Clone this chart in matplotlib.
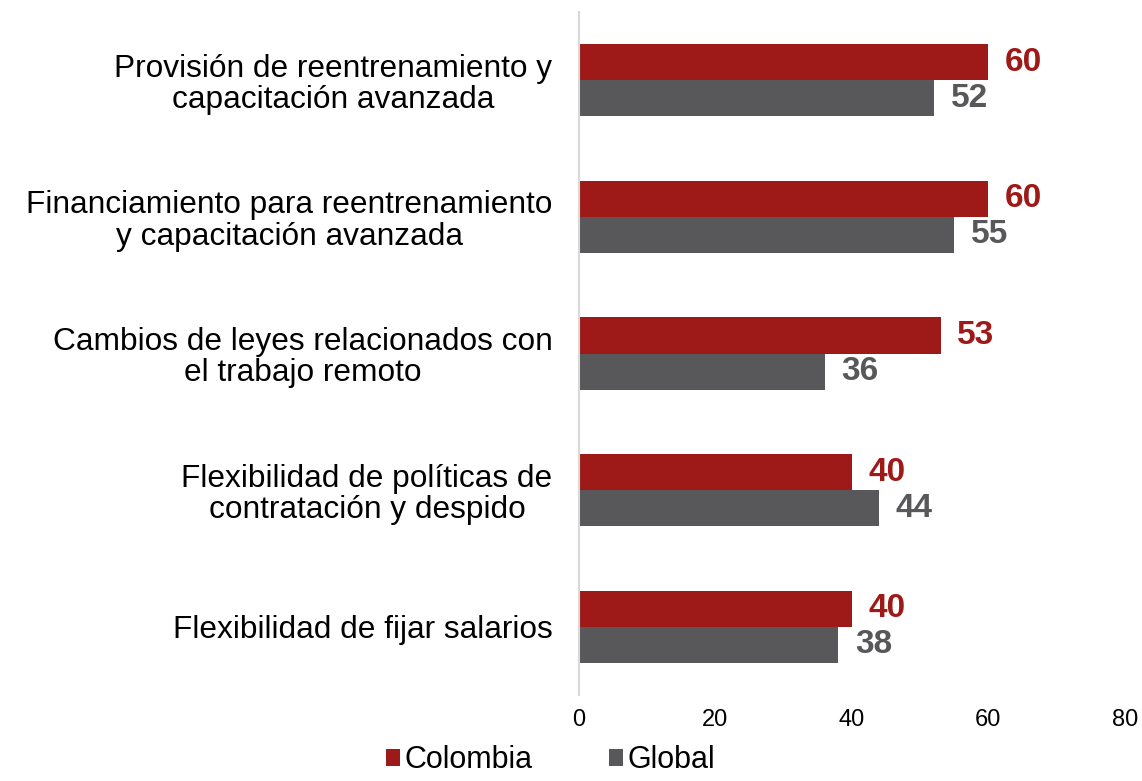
import matplotlib
matplotlib.use("Agg")
import matplotlib.pyplot as plt
import numpy as np
from matplotlib import font_manager

categorias = [
    "Provisión de reentrenamiento y\ncapacitación avanzada",
    "Financiamiento para reentrenamiento\ny capacitación avanzada",
    "Cambios de leyes relacionados con\nel trabajo remoto",
    "Flexibilidad de políticas de\ncontratación y despido",
    "Flexibilidad de fijar salarios",
]
colombia = [60, 60, 53, 40, 40]
global_vals = [52, 55, 36, 44, 38]
ticks_x = [0, 20, 40, 60, 80]

rojo = "#9E1A18"
gris = "#58585A"

plt.rcParams['font.family'] = ['Liberation Sans', 'DejaVu Sans']
nombres = {f.name for f in font_manager.fontManager.ttflist}
fuente_ticks = 'Liberation Sans Narrow' if 'Liberation Sans Narrow' in nombres else 'Liberation Sans'

fig = plt.figure(figsize=(11.42, 7.81), dpi=100)
ax = fig.add_axes([0.507, 0.11, 0.478, 0.8746])

y = np.arange(len(categorias))
h = 0.264
b1 = ax.barh(y - h / 2, colombia, height=h, color=rojo, label="Colombia")
b2 = ax.barh(y + h / 2, global_vals, height=h, color=gris, label="Global")

for barras, vals, c in [(b1, colombia, rojo), (b2, global_vals, gris)]:
    for rect, v in zip(barras, vals):
        ax.annotate(str(v), (rect.get_width(), rect.get_y() + rect.get_height() / 2),
                    xytext=(12, 0), textcoords="offset points", va="center", ha="left",
                    fontsize=24, fontweight="bold", color=c)

ax.set_xlim(0, 80)
ax.set_ylim(4.5, -0.5)
ax.set_xticks(ticks_x)
ax.set_xticklabels([str(t) for t in ticks_x], fontsize=17, family=fuente_ticks)
ax.set_yticks(y)
ax.set_yticklabels(categorias, fontsize=22.8, multialignment="center", linespacing=1.06)
ax.tick_params(axis="both", length=0)
ax.tick_params(axis="x", pad=10)
ax.tick_params(axis="y", pad=19)

for s in ["top", "right", "bottom"]:
    ax.spines[s].set_visible(False)
ax.spines["left"].set_color("#D9D9D9")
ax.spines["left"].set_linewidth(1.5)

fig.legend(handles=[b1, b2], loc="lower center", bbox_to_anchor=(0.482, -0.028), ncol=2,
           frameon=False, fontsize=22, handlelength=0.45, handleheight=0.45,
           handletextpad=0.15, columnspacing=2.5)

fig.savefig("out.png", dpi=100)
